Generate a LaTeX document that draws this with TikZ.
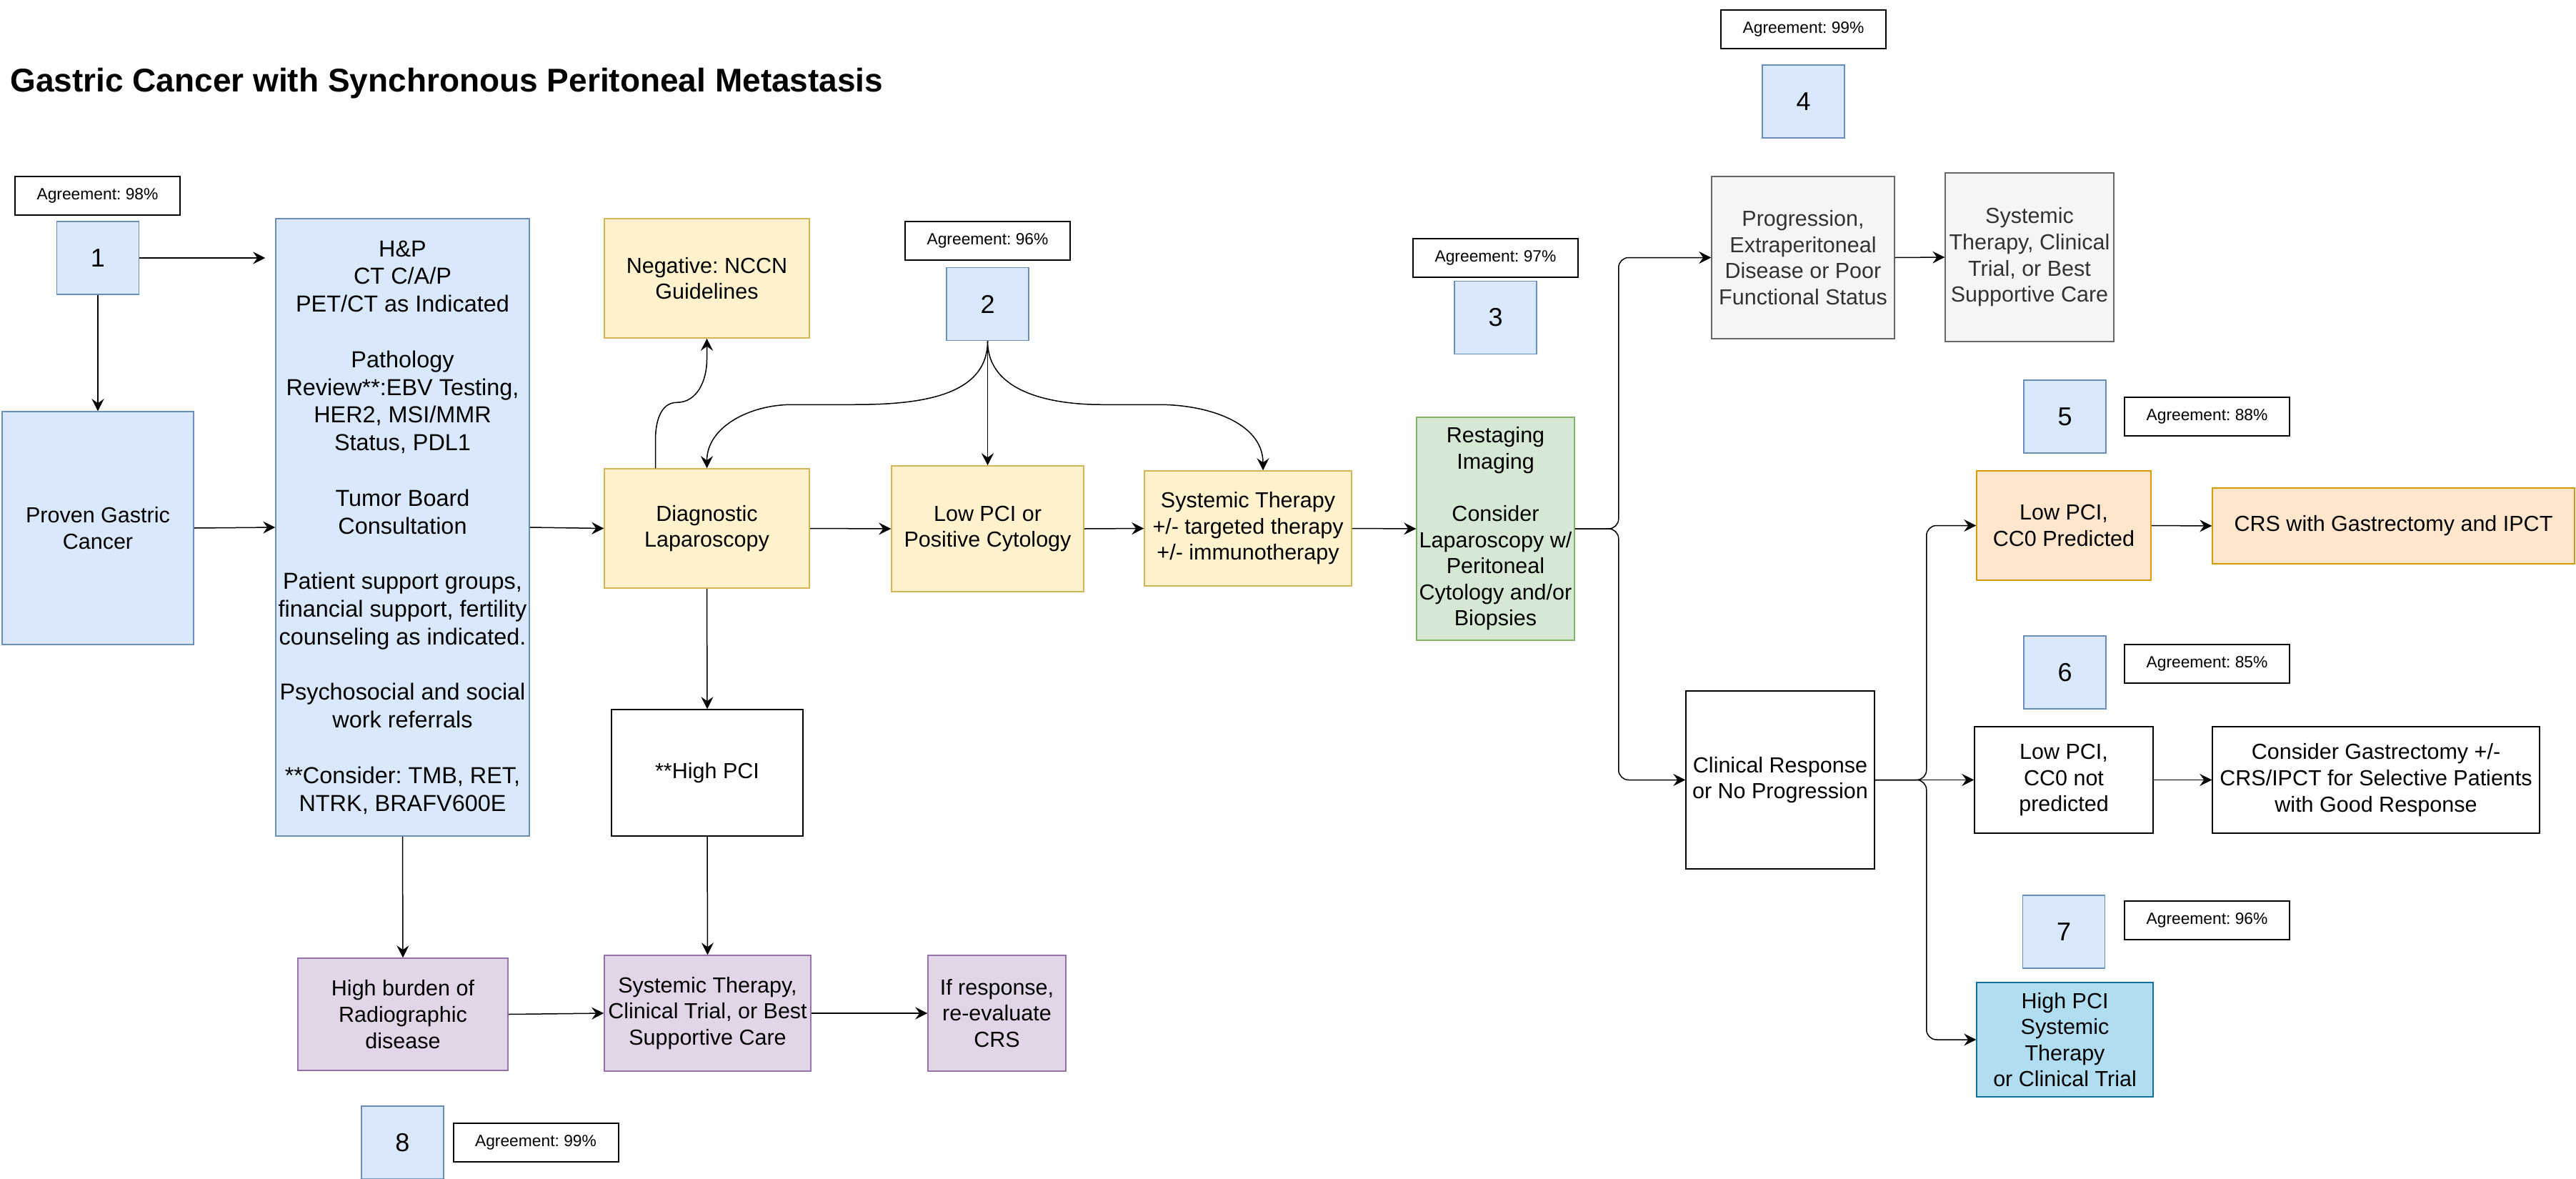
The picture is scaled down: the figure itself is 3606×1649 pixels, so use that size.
\documentclass[tikz,border=0pt]{standalone}
\usepackage{fontspec}
\setmainfont{Liberation Sans}
\frenchspacing
\usetikzlibrary{arrows.meta}
\definecolor{bluefill}{HTML}{DAE8FC}
\definecolor{bluedraw}{HTML}{6C8EBF}
\definecolor{yellowfill}{HTML}{FFF2CC}
\definecolor{yellowdraw}{HTML}{D6B656}
\definecolor{greenfill}{HTML}{D5E8D4}
\definecolor{greendraw}{HTML}{82B366}
\definecolor{greyfill}{HTML}{F5F5F5}
\definecolor{greydraw}{HTML}{666666}
\definecolor{greytext}{HTML}{333333}
\definecolor{orangefill}{HTML}{FFE6CC}
\definecolor{orangedraw}{HTML}{D79B00}
\definecolor{purplefill}{HTML}{E1D5E7}
\definecolor{purpledraw}{HTML}{9673A6}
\definecolor{cyanfill}{HTML}{B1DDF0}
\definecolor{cyandraw}{HTML}{10739E}
\tikzset{
	box/.style={draw,rectangle,inner sep=0pt,align=center,font=\fontsize{15.25}{18.3}\selectfont},
	sz/.style 2 args={minimum width=#1*0.5pt,minimum height=#2*0.5pt},
	bluebox/.style={box,fill=bluefill,draw=bluedraw},
	yellowbox/.style={box,fill=yellowfill,draw=yellowdraw},
	greenbox/.style={box,fill=greenfill,draw=greendraw},
	greybox/.style={box,fill=greyfill,draw=greydraw,text=greytext},
	orangebox/.style={box,fill=orangefill,draw=orangedraw},
	purplebox/.style={box,fill=purplefill,draw=purpledraw},
	cyanbox/.style={box,fill=cyanfill,draw=cyandraw},
	whitebox/.style={box,fill=white,draw=black},
	numbox/.style={bluebox,sz={115}{102},font=\fontsize{18}{21.6}\selectfont},
	agree/.style={box,draw=black,line width=1pt,sz={231}{54},font=\fontsize{11.4}{13.7}\selectfont}
}
\begin{document}
\begin{tikzpicture}[x=0.5pt,y=-0.5pt,line width=0.75pt,>={Stealth[length=8.5pt,width=8.5pt,inset=3pt]}]
	\useasboundingbox (0,0) rectangle (3606,1649);
	\node[anchor=base west,font=\bfseries\fontsize{23}{27.6}\selectfont] (title) at (7,128) {Gastric Cancer with Synchronous Peritoneal Metastasis};
	% left part
	\node[agree] (agr1) at (136.5,274) {Agreement: 98\%};
	\node[numbox] (b1) at (137,361) {1};
	\node[bluebox,sz={268}{326}] (proven) at (137,739) {Proven Gastric\\Cancer};
	\node[bluebox,sz={355}{864},font=\fontsize{16.2}{19.4}\selectfont] (hp) at (563.5,738) {H\&P\\CT C/A/P\\PET/CT as Indicated\\[\baselineskip]Pathology\\Review**:EBV Testing,\\HER2, MSI/MMR\\Status, PDL1\\[\baselineskip]Tumor Board\\Consultation\\[\baselineskip]Patient support groups,\\financial support, fertility\\counseling as indicated.\\[\baselineskip]Psychosocial and social\\work referrals\\[\baselineskip]{}**Consider: TMB, RET,\\NTRK, BRAFV600E};
	\node[yellowbox,sz={287}{167}] (nccn) at (989.5,389.5) {Negative: NCCN\\Guidelines};
	\node[agree] (agr2) at (1382.5,337) {Agreement: 96\%};
	\node[numbox] (b2) at (1382.5,425.5) {2};
	\node[yellowbox,sz={287}{167}] (diag) at (989.5,739.5) {Diagnostic\\Laparoscopy};
	\node[yellowbox,sz={269}{176}] (lowpos) at (1382.5,740) {Low PCI or\\Positive Cytology};
	\node[yellowbox,sz={290}{161}] (syst) at (1747,739.5) {Systemic Therapy\\+/- targeted therapy\\+/- immunotherapy};
	\node[whitebox,sz={268}{177}] (highpci) at (990,1081.5) {**High PCI};
	\node[purplebox,sz={294}{157}] (burden) at (564,1419.5) {High burden of\\Radiographic\\disease};
	\node[purplebox,sz={289}{162}] (systrial) at (990.5,1418) {Systemic Therapy,\\Clinical Trial, or Best\\Supportive Care};
	\node[purplebox,sz={193}{162}] (ifresp) at (1395.5,1418) {If response,\\re-evaluate\\CRS};
	\node[numbox] (b8) at (563.5,1599) {8};
	\node[agree] (agr8) at (750,1599) {Agreement: 99\%};
	% right part
	\node[agree] (agr3) at (2093.5,360.5) {Agreement: 97\%};
	\node[numbox] (b3) at (2093.5,444.5) {3};
	\node[greenbox,sz={221}{312}] (restage) at (2093.5,740) {Restaging\\Imaging\\[\baselineskip]Consider\\Laparoscopy w/\\Peritoneal\\Cytology and/or\\Biopsies};
	\node[agree] (agr4) at (2524.5,40.5) {Agreement: 99\%};
	\node[numbox] (b4) at (2524.5,142) {4};
	\node[greybox,sz={256}{227}] (prog) at (2524,360.5) {Progression,\\Extraperitoneal\\Disease or Poor\\Functional Status};
	\node[greybox,sz={236}{236}] (bestcare) at (2841,360) {Systemic\\Therapy, Clinical\\Trial, or Best\\Supportive Care};
	\node[numbox] (b5) at (2890.5,583) {5};
	\node[agree] (agr5) at (3089.5,582.5) {Agreement: 88\%};
	\node[orangebox,sz={244}{153}] (cc0) at (2889,735.5) {Low PCI,\\CC0 Predicted};
	\node[orangebox,sz={507}{106}] (crs) at (3350.5,736) {CRS with Gastrectomy and IPCT};
	\node[numbox] (b6) at (2890.5,941) {6};
	\node[agree] (agr6) at (3089.5,928.5) {Agreement: 85\%};
	\node[whitebox,sz={264}{249}] (clin) at (2492,1091.5) {Clinical Response\\or No Progression};
	\node[whitebox,sz={250}{149}] (notpred) at (2889,1091.5) {Low PCI,\\CC0 not\\predicted};
	\node[whitebox,sz={458}{149}] (consider) at (3326,1091.5) {Consider Gastrectomy +/-\\CRS/IPCT for Selective Patients\\with Good Response};
	\node[numbox] (b7) at (2889,1304) {7};
	\node[agree] (agr7) at (3089.5,1288) {Agreement: 96\%};
	\node[cyanbox,sz={247}{160}] (highsys) at (2890.5,1455) {High PCI\\Systemic\\Therapy\\or Clinical Trial};
	% arrows
	\draw[->] (b1.east) -- ++(176,0);
	\draw[->] (b1.south) -- (proven.north);
	\draw[->] (proven.east) -- (hp.west);
	\draw[->] (hp.east) -- (diag.west);
	\draw[->] (hp.south) -- (burden.north);
	\draw[->] (diag.east) -- (lowpos.west);
	\draw[->] (lowpos.east) -- (syst.west);
	\draw[->] (syst.east) -- (restage.west);
	\draw[->] (diag.south) -- (highpci.north);
	\draw[->] (highpci.south) -- (systrial.north);
	\draw[->] (burden.east) -- (systrial.west);
	\draw[->] (systrial.east) -- (ifresp.west);
	\draw[->] ([xshift=-36pt]diag.north) -- ++(0,-40) to[out=90,in=180] ++(30,-52) to[out=0,in=-90] ++(42,-60) -- (nccn.south);
	\draw[->] (b2.south) -- (lowpos.north);
	\draw[->] (b2.south) to[out=-90,in=0] ++(-190,89) -- ++(-84,0) to[out=180,in=90] (diag.north);
	\draw[->] (b2.south) to[out=-90,in=180] ++(160,89) -- ++(80,0) to[out=0,in=90] ([xshift=10.5pt]syst.north);
	\draw[->,rounded corners=7pt] (restage.east) -- ++(61,0) |- (prog.west);
	\draw[->,rounded corners=7pt] (restage.east) -- ++(61,0) |- (clin.west);
	\draw[->] (prog.east) -- (bestcare.west);
	\draw[->,rounded corners=7pt] (clin.east) -- ++(72,0) |- (cc0.west);
	\draw[->] (clin.east) -- (notpred.west);
	\draw[->,rounded corners=7pt] (clin.east) -- ++(72,0) |- (highsys.west);
	\draw[->] (cc0.east) -- (crs.west);
	\draw[->] (notpred.east) -- (consider.west);
\end{tikzpicture}
\end{document}
